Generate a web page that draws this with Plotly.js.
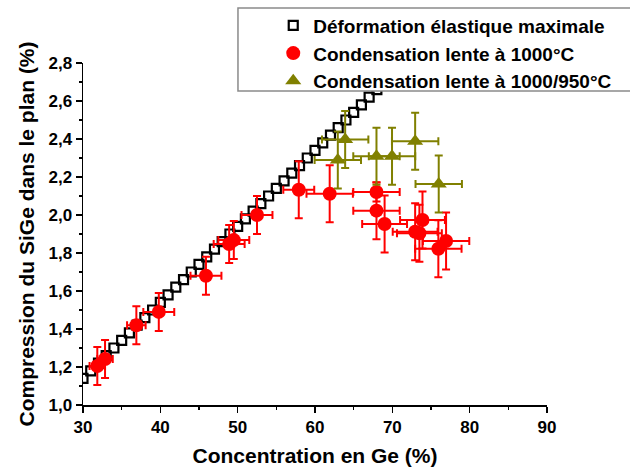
<!DOCTYPE html>
<html>
<head>
<meta charset="utf-8">
<script src="https://cdn.plot.ly/plotly-3.0.1.min.js"></script>
<style>html,body{margin:0;padding:0;background:#fff;}#chart{width:630px;height:470px;}</style>
</head>
<body>
<div id="chart"></div>
<script>
// Déformation élastique maximale (open squares)
const elastX = [30,31,32,33,34,35,36,37,38,39,40,41,42,43,44,45,46,47,48,49,50,51,52,53,54,55,56,57,58,59,60,61,62,63,64,65,66,67,68,69,70,71];
const elastY = [1.14,1.18,1.22,1.26,1.30,1.34,1.38,1.42,1.46,1.50,1.54,1.58,1.62,1.66,1.70,1.74,1.78,1.82,1.86,1.90,1.94,1.98,2.02,2.06,2.10,2.14,2.18,2.22,2.26,2.30,2.34,2.38,2.42,2.46,2.50,2.54,2.58,2.62,2.66,2.70,2.74,2.78];

// Condensation lente à 1000°C (red circles)
const redX    = [31.85,32.85,36.9,39.8,45.9,48.9,49.5,52.5,57.9,61.9,67.95,67.95,69.0,73.9,72.95,73.5,76.95,75.95];
const redY    = [1.205,1.242,1.42,1.49,1.68,1.847,1.868,2.0,2.133,2.112,2.121,2.023,1.953,1.974,1.912,1.904,1.863,1.822];
const redXerr = [1.0,1.0,1.2,2.0,2.0,2.0,2.0,2.0,2.0,3.0,3.0,3.0,2.9,2.9,2.9,2.9,3.0,3.0];
const redYerr = [0.10,0.10,0.10,0.10,0.10,0.10,0.10,0.10,0.15,0.15,0.05,0.15,0.15,0.15,0.15,0.15,0.15,0.15];

// Condensation lente à 1000/950°C (olive triangles)
const olvX    = [62.95,63.9,67.95,69.96,72.95,76.0];
const olvY    = [2.289,2.398,2.309,2.309,2.388,2.163];
const olvXerr = [3.0,3.0,3.0,3.0,3.0,3.0];
const olvYerr = [0.15,0.15,0.15,0.15,0.15,0.15];

const labels = ['Déformation élastique maximale','Condensation lente à 1000°C','Condensation lente à 1000/950°C'];
const xTickVals = [30,40,50,60,70,80,90];
const yTickVals = [1.0,1.2,1.4,1.6,1.8,2.0,2.2,2.4,2.6,2.8];

const FONT = 'Liberation Sans, Arial, sans-serif';

const traces = [
  {
    x: elastX, y: elastY, type: 'scatter', mode: 'markers', name: labels[0],
    marker: {symbol: 'square-open', size: 9, color: '#000', line: {width: 2.2, color: '#000'}},
    cliponaxis: true
  },
  {
    x: redX, y: redY, type: 'scatter', mode: 'markers', name: labels[1],
    marker: {symbol: 'circle', size: 14, color: '#ff0000'},
    error_x: {type: 'data', array: redXerr, visible: true, color: '#ff0000', thickness: 2, width: 4},
    error_y: {type: 'data', array: redYerr, visible: true, color: '#ff0000', thickness: 2, width: 4}
  },
  {
    x: olvX, y: olvY, type: 'scatter', mode: 'markers', name: labels[2],
    marker: {symbol: 'triangle-up', size: 14, color: '#808000'},
    error_x: {type: 'data', array: olvXerr, visible: true, color: '#808000', thickness: 2, width: 4},
    error_y: {type: 'data', array: olvYerr, visible: true, color: '#808000', thickness: 2, width: 4}
  }
];

const axisCommon = {
  showgrid: false, zeroline: false, showline: true, linecolor: '#000', linewidth: 1.5,
  ticks: 'outside', ticklen: 6, tickwidth: 1.5, tickcolor: '#000', mirror: false,
  tickfont: {family: FONT, size: 17, color: '#000', weight: 'bold'}
};

const layout = {
  width: 630, height: 470,
  margin: {l: 83, r: 83, t: 63, b: 65, autoexpand: false},
  paper_bgcolor: '#fff', plot_bgcolor: '#fff',
  separators: ', ',
  showlegend: true,
  xaxis: Object.assign({}, axisCommon, {
    range: [30, 90], tickvals: xTickVals, tickformat: 'd',
    minor: {dtick: 5, tick0: 30, ticks: 'outside', ticklen: 3, tickwidth: 1.5, tickcolor: '#000'},
    title: {text: 'Concentration en Ge (%)', font: {family: FONT, size: 21, color: '#000', weight: 'bold'}, standoff: 12}
  }),
  yaxis: Object.assign({}, axisCommon, {
    range: [1.0, 2.8], tickvals: yTickVals, tickformat: '.1f',
    minor: {dtick: 0.1, tick0: 1.0, ticks: 'outside', ticklen: 3, tickwidth: 1.5, tickcolor: '#000'},
    title: {text: 'Compression du SiGe dans le plan (%)', font: {family: FONT, size: 21, color: '#000', weight: 'bold'}, standoff: 8}
  }),
  shapes: [
    {type: 'rect', xref: 'paper', yref: 'paper', x0: 0.334, x1: 1.19, y0: 0.918, y1: 1.161,
     fillcolor: '#fff', line: {color: '#8a8a8a', width: 1.5}, layer: 'above'}
  ],
  legend: {
    x: 0.41, y: 1.165, xanchor: 'left', yanchor: 'top',
    bgcolor: 'rgba(0,0,0,0)', borderwidth: 0,
    font: {family: FONT, size: 19, color: '#000', weight: 'bold'},
    tracegroupgap: 0
  }
};

Plotly.newPlot('chart', traces, layout, {displayModeBar: false, staticPlot: true});
</script>
</body>
</html>
